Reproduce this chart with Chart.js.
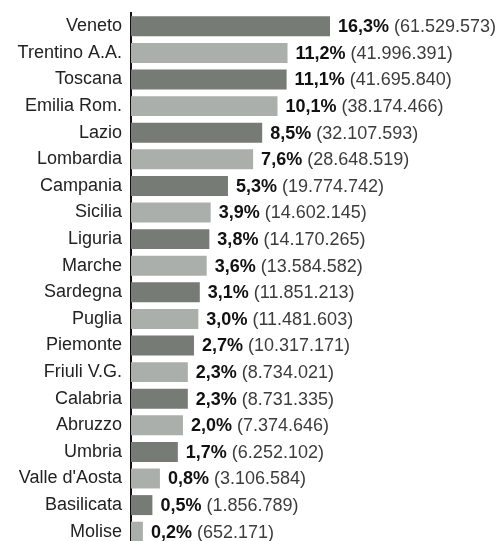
<!DOCTYPE html>
<html lang="it">
<head>
<meta charset="UTF-8">
<title>Regioni</title>
<script src="https://cdn.jsdelivr.net/npm/chart.js"></script>
<style>
  body { margin: 0; background: #fff; overflow: hidden; }
  #wrap { width: 503px; height: 545px; }
</style>
</head>
<body>
<div id="wrap"><canvas id="chart" width="503" height="545"></canvas></div>
<script>
// dati
const regioni = ['Veneto', 'Trentino A.A.', 'Toscana', 'Emilia Rom.', 'Lazio', 'Lombardia', 'Campania',
  'Sicilia', 'Liguria', 'Marche', 'Sardegna', 'Puglia', 'Piemonte', 'Friuli V.G.', 'Calabria',
  'Abruzzo', 'Umbria', "Valle d'Aosta", 'Basilicata', 'Molise'];
const percentuali = [16.3, 11.2, 11.1, 10.1, 8.5, 7.6, 5.3, 3.9, 3.8, 3.6, 3.1, 3.0, 2.7, 2.3, 2.3, 2.0, 1.7, 0.8, 0.5, 0.2];
const valori = [61529573, 41996391, 41695840, 38174466, 32107593, 28648519, 19774742, 14602145, 14170265,
  13584582, 11851213, 11481603, 10317171, 8734021, 8731335, 7374646, 6252102, 3106584, 1856789, 652171];

const scuro = '#767b76';
const chiaro = '#abafab';

// le barre dell'originale non sono proporzionali: scala a potenza
const ESP = 0.64;
class PowScale extends Chart.LinearScale {
  getPixelForValue(v) {
    return this.getPixelForDecimal(Math.pow(Math.max(v, 0) / this.max, ESP));
  }
  getValueForPixel(p) {
    return this.max * Math.pow(Math.max(this.getDecimalForPixel(p), 0), 1 / ESP);
  }
}
PowScale.id = 'pow';
PowScale.defaults = Chart.LinearScale.defaults;
Chart.register(PowScale);

function puntini(n) {
  return String(n).replace(/\B(?=(\d{3})+(?!\d))/g, '.');
}

const etichette = {
  id: 'etichette',
  afterDatasetsDraw(chart) {
    const ctx = chart.ctx;
    const meta = chart.getDatasetMeta(0);
    ctx.save();
    ctx.textBaseline = 'middle';
    ctx.textAlign = 'left';
    meta.data.forEach((bar, i) => {
      let x = bar.x + 8;
      const pct = percentuali[i].toFixed(1).replace('.', ',') + '%';
      ctx.font = 'bold 18px "Liberation Sans", Arial, sans-serif';
      ctx.fillStyle = '#111';
      ctx.fillText(pct, x, bar.y + 1);
      x += ctx.measureText(pct + ' ').width;
      ctx.font = '18px "Liberation Sans", Arial, sans-serif';
      ctx.fillStyle = '#3c3c3c';
      ctx.fillText('(' + puntini(valori[i]) + ')', x, bar.y + 1);
    });
    ctx.restore();
  }
};

new Chart(document.getElementById('chart'), {
  type: 'bar',
  data: {
    labels: regioni,
    datasets: [{
      data: percentuali,
      backgroundColor: regioni.map((r, i) => i % 2 === 0 ? scuro : chiaro),
      barPercentage: 0.75,
      categoryPercentage: 1
    }]
  },
  options: {
    indexAxis: 'y',
    responsive: false,
    animation: false,
    layout: { padding: { top: 13, right: 173, bottom: 0, left: 0 } },
    plugins: { legend: { display: false }, tooltip: { enabled: false } },
    scales: {
      x: {
        type: 'pow',
        display: false,
        min: 0,
        max: Math.max(...percentuali)
      },
      y: {
        afterFit(scale) {
          scale.width = 131;
          scale.paddingTop = 0;
          scale.paddingBottom = 0;
        },
        grid: { display: false, drawTicks: false },
        border: { display: true, color: '#111', width: 2 },
        ticks: {
          autoSkip: false,
          padding: 9,
          color: '#222',
          font: { family: '"Liberation Sans", Arial, sans-serif', size: 18 }
        }
      }
    }
  },
  plugins: [etichette]
});
</script>
</body>
</html>
